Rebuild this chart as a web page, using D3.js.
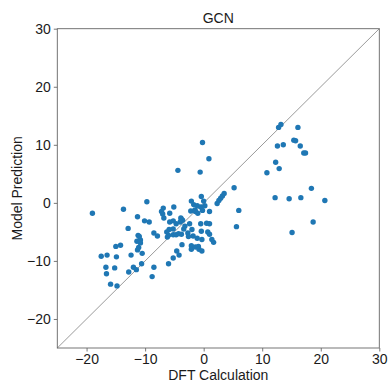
<!DOCTYPE html>
<html>
<head>
<meta charset="utf-8">
<script src="https://cdn.jsdelivr.net/npm/d3@7"></script>
<style>
  html, body { margin: 0; padding: 0; background: #fff; }
  svg text { font-family: "Liberation Sans", Arial, sans-serif; fill: #1a1a1a; }
</style>
</head>
<body>
<svg id="chart" width="388" height="383"></svg>
<script>
// DFT-calculated values (x) and GCN predictions (y)
const dftValues = [
  -19.0, -17.5, -16.5, -16.7, -16.6, -15.9, -14.8, -15.2, -14.9, -15.0,
  -14.2, -13.7, -12.9, -12.4, -12.8, -12.0, -11.5, -11.3, -11.2, -11.4,
  -10.8, -11.3, -11.1, -10.8, -10.5, -10.6, -10.1, -9.7, -9.3, -8.5,
  -7.9, -8.5, -8.8, -6.9, -7.2, -6.8, -7.0, -5.8, -5.1, -5.8,
  -5.2, -4.7, -4.4, -3.8, -3.6, -3.4, -5.9, -6.2, -6.0, -5.2,
  -4.7, -4.3, -5.2, -5.2, -6.0, -4.6, -4.2, -3.7, -2.4, -2.7,
  -2.1, -2.2, -1.7, -1.4, -1.1, -0.6, -0.4, -0.2, 0.0, -0.5,
  -0.2, 0.9, 1.0, -2.1, -2.1, -1.4, -0.9, -0.8, -0.3, -1.1,
  -1.8, -0.3, -0.5, -0.4, 0.5, 1.0, 0.7, 1.0, 1.4, 1.7,
  2.3, 2.6, 2.9, 3.2, 3.5, 5.2, 6.0, 5.6, 10.8, 12.3,
  12.9, 12.6, 13.6, 12.8, 13.2, 16.1, 15.4, 15.7, 16.5, 17.1,
  17.4, 12.2, 14.6, 16.6, 18.4, 20.7, 18.7, 15.1,
  -4.0, -3.2, -2.0, -1.0, 0.2, -6.3, -2.6, -3.8, -1.5, -11.0, -3.9
];
const predictedValues = [
  -1.8, -9.2, -9.0, -11.1, -12.2, -14.0, -14.3, -11.2, -9.3, -7.5,
  -7.3, -1.1, -4.4, -9.0, -11.9, -11.1, -11.5, -2.4, -5.6, -6.6,
  -6.4, -8.1, -7.7, -6.9, -8.7, -10.5, -3.1, 0.2, -3.3, -5.2,
  -5.7, -11.1, -12.7, -0.9, -1.5, -2.6, -1.9, -1.8, -0.7, -3.3,
  -3.1, -3.6, 5.6, -2.8, -3.0, -4.5, -4.6, -5.9, -5.6, -5.5,
  -5.5, -5.3, -4.5, -9.5, -10.5, -8.3, -9.0, -7.2, -3.6, -5.2,
  0.3, -1.4, -0.3, -1.5, -0.5, 5.3, 1.1, 10.4, 0.3, -0.7,
  -1.3, 7.6, -1.5, -7.4, -8.0, -7.6, -7.5, -8.0, -8.3, -6.1,
  -5.7, -6.3, -3.6, -4.9, -3.5, -3.6, -5.0, -5.4, -6.3, -6.8,
  -0.1, 0.4, 0.8, 1.2, 1.6, 2.6, -1.3, -4.1, 5.2, 7.0,
  5.9, 9.8, 10.0, 13.0, 13.5, 13.0, 10.8, 10.7, 9.8, 8.6,
  8.6, 0.9, 0.7, 0.9, 2.5, 0.4, -3.3, -5.1,
  -3.3, -4.0, -4.6, -1.8, -0.5, -5.0, -5.8, -5.4, -1.2, -5.8, -2.6
];
const axisDomain = [-25, 30];
const tickValues = [-20, -10, 0, 10, 20, 30];
const chartTitle = "GCN";
const xLabel = "DFT Calculation";
const yLabel = "Model Prediction";

const svg = d3.select("#chart");
const plotLeft = 57.3, plotRight = 379.3, plotTop = 28.7, plotBottom = 348;

const x = d3.scaleLinear().domain(axisDomain).range([plotLeft, plotRight]);
const y = d3.scaleLinear().domain(axisDomain).range([plotBottom, plotTop]);

const fmt = d => (d < 0 ? "\u2212" + Math.abs(d) : String(d));

// parity line y = x
svg.append("line")
  .attr("x1", x(axisDomain[0])).attr("y1", y(axisDomain[0]))
  .attr("x2", x(axisDomain[1])).attr("y2", y(axisDomain[1]))
  .attr("stroke", "#555").attr("stroke-width", 0.6);

// points
const pts = dftValues.map((v, i) => [v, predictedValues[i]]);
svg.append("g").selectAll("circle").data(pts).join("circle")
  .attr("cx", d => x(d[0])).attr("cy", d => y(d[1]))
  .attr("r", 2.7).attr("fill", "#1f77b4");

// axes
const xAxis = svg.append("g").attr("transform", `translate(0,${plotBottom})`)
  .call(d3.axisBottom(x).tickValues(tickValues).tickFormat(fmt).tickSize(3.5).tickPadding(3));
const yAxis = svg.append("g").attr("transform", `translate(${plotLeft},0)`)
  .call(d3.axisLeft(y).tickValues(tickValues).tickFormat(fmt).tickSize(3.5).tickPadding(3));
[xAxis, yAxis].forEach(g => {
  g.select(".domain").remove();
  g.selectAll(".tick line").attr("stroke", "#555").attr("stroke-width", 0.8);
  g.selectAll(".tick text").attr("font-size", 14).style("fill", "#1a1a1a");
});

// frame
svg.append("rect")
  .attr("x", plotLeft).attr("y", plotTop)
  .attr("width", plotRight - plotLeft).attr("height", plotBottom - plotTop)
  .attr("fill", "none").attr("stroke", "#666").attr("stroke-width", 0.9);

// labels
svg.append("text").attr("x", (plotLeft + plotRight) / 2).attr("y", 23)
  .attr("text-anchor", "middle").attr("font-size", 14).text(chartTitle);
svg.append("text").attr("x", (plotLeft + plotRight) / 2).attr("y", 380)
  .attr("text-anchor", "middle").attr("font-size", 14).text(xLabel);
svg.append("text")
  .attr("transform", `translate(22,${(plotTop + plotBottom) / 2}) rotate(-90)`)
  .attr("text-anchor", "middle").attr("font-size", 14).text(yLabel);
</script>
</body>
</html>
